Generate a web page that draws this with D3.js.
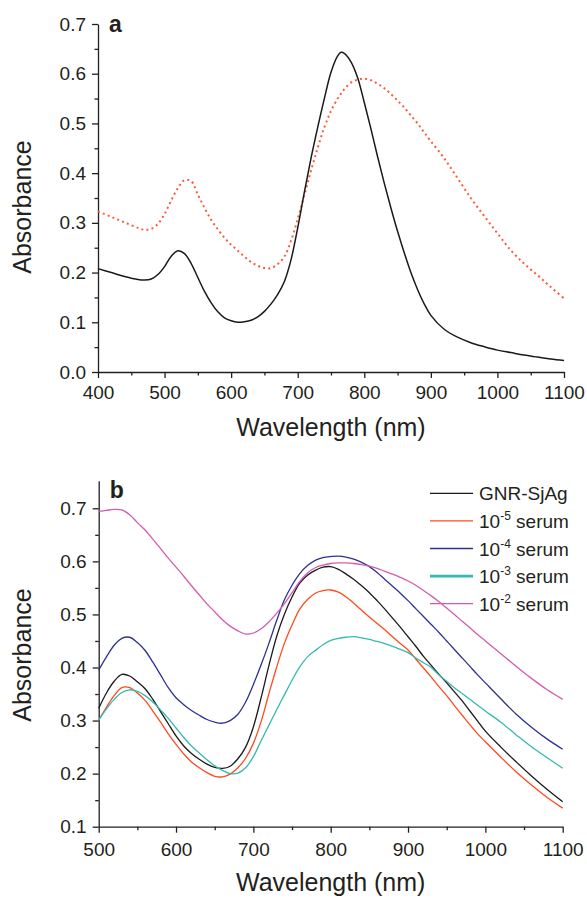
<!DOCTYPE html>
<html>
<head>
<meta charset="utf-8">
<script src="https://cdn.jsdelivr.net/npm/d3@7"></script>
<style>
  body { margin: 0; background: #fff; }
  svg text { font-family: "Liberation Sans", Arial, sans-serif; fill: #231f20; }
</style>
</head>
<body>
<div id="chart"></div>
<script>
// panel a
var wlA = [400,420,440,460,470,480,490,500,510,520,530,540,550,560,570,580,590,600,610,620,630,640,650,660,670,680,690,700,710,720,730,740,750,760,765,770,780,790,800,810,820,830,840,850,860,870,880,890,900,920,940,960,980,1000,1020,1040,1060,1080,1100];
var absGnrA = [0.208,0.200,0.192,0.186,0.185,0.187,0.196,0.212,0.233,0.244,0.238,0.218,0.190,0.162,0.139,0.121,0.109,0.103,0.100,0.101,0.104,0.111,0.122,0.137,0.156,0.182,0.226,0.290,0.362,0.430,0.492,0.550,0.603,0.636,0.643,0.641,0.624,0.592,0.542,0.489,0.433,0.380,0.330,0.283,0.240,0.200,0.166,0.137,0.114,0.086,0.070,0.059,0.051,0.044,0.039,0.034,0.030,0.026,0.023];
var absSjAgA = [0.323,0.312,0.301,0.290,0.286,0.288,0.298,0.318,0.345,0.370,0.386,0.384,0.357,0.330,0.306,0.287,0.270,0.256,0.244,0.232,0.221,0.214,0.209,0.209,0.217,0.232,0.264,0.308,0.356,0.405,0.451,0.492,0.525,0.550,0.560,0.569,0.582,0.588,0.590,0.587,0.580,0.571,0.559,0.546,0.532,0.516,0.500,0.482,0.464,0.430,0.390,0.350,0.314,0.279,0.245,0.218,0.195,0.171,0.148];

// panel b
var wlB = [500,510,520,530,540,550,560,570,580,590,600,610,620,630,640,650,660,670,680,690,700,710,720,730,740,750,760,770,780,790,800,810,820,830,840,850,860,870,880,890,900,910,920,930,940,950,960,970,980,990,1000,1020,1040,1060,1080,1100];
var absGnrSjAg = [0.323,0.352,0.374,0.387,0.384,0.373,0.360,0.340,0.317,0.294,0.271,0.252,0.238,0.227,0.218,0.212,0.210,0.214,0.228,0.250,0.288,0.343,0.403,0.458,0.500,0.533,0.559,0.574,0.583,0.589,0.590,0.585,0.576,0.566,0.554,0.541,0.526,0.510,0.493,0.476,0.458,0.440,0.421,0.404,0.387,0.371,0.354,0.337,0.318,0.299,0.280,0.250,0.222,0.195,0.170,0.147];
var absSerum5 = [0.301,0.325,0.347,0.362,0.362,0.352,0.338,0.318,0.297,0.275,0.255,0.237,0.222,0.211,0.202,0.195,0.194,0.199,0.211,0.229,0.257,0.298,0.350,0.400,0.445,0.480,0.510,0.528,0.540,0.545,0.546,0.542,0.533,0.521,0.508,0.495,0.483,0.471,0.458,0.445,0.433,0.416,0.399,0.382,0.364,0.347,0.328,0.310,0.292,0.275,0.260,0.231,0.203,0.178,0.155,0.135];
var absSerum4 = [0.395,0.420,0.442,0.455,0.457,0.447,0.432,0.410,0.386,0.362,0.343,0.330,0.319,0.310,0.302,0.297,0.295,0.300,0.312,0.335,0.368,0.405,0.445,0.488,0.527,0.555,0.577,0.592,0.602,0.607,0.609,0.610,0.608,0.604,0.598,0.590,0.579,0.566,0.553,0.540,0.526,0.511,0.496,0.481,0.466,0.450,0.434,0.418,0.402,0.386,0.371,0.341,0.312,0.287,0.265,0.246];
var absSerum3 = [0.301,0.322,0.340,0.353,0.358,0.355,0.347,0.335,0.320,0.304,0.286,0.268,0.252,0.239,0.226,0.215,0.206,0.200,0.201,0.211,0.232,0.262,0.291,0.320,0.348,0.376,0.401,0.420,0.432,0.443,0.451,0.455,0.457,0.458,0.456,0.453,0.449,0.445,0.440,0.434,0.428,0.418,0.409,0.400,0.386,0.374,0.362,0.351,0.340,0.329,0.318,0.297,0.273,0.250,0.230,0.210];
var absSerum2 = [0.694,0.696,0.698,0.697,0.688,0.673,0.659,0.642,0.624,0.606,0.589,0.572,0.554,0.537,0.520,0.505,0.490,0.478,0.469,0.463,0.465,0.473,0.486,0.502,0.520,0.541,0.562,0.578,0.588,0.593,0.596,0.597,0.597,0.596,0.594,0.591,0.587,0.581,0.576,0.570,0.563,0.555,0.545,0.535,0.524,0.512,0.500,0.487,0.475,0.462,0.450,0.426,0.402,0.379,0.358,0.340];

var seriesB = [
    {name: "GNR-SjAg", exp: null, color: "#1a1a1a", values: absGnrSjAg, legW: 1.3},
    {name: "serum", exp: "-5", color: "#ff4a1c", values: absSerum5, legW: 1.3},
    {name: "serum", exp: "-4", color: "#2e3192", values: absSerum4, legW: 1.3},
    {name: "serum", exp: "-3", color: "#35b9b0", values: absSerum3, legW: 2.6},
    {name: "serum", exp: "-2", color: "#d35cb0", values: absSerum2, legW: 1.3}
];

var svg = d3.select("#chart").append("svg")
    .attr("width", 587)
    .attr("height", 898);

function drawAxes(g, x, y, opt){
    g.append("g").attr("transform", "translate(0," + opt.bottom + ")")
        .call(d3.axisBottom(x).tickValues(opt.xTicks).tickSize(6).tickSizeOuter(0).tickPadding(opt.xPad).tickFormat(d3.format("d")));
    g.append("g").attr("transform", "translate(0," + opt.bottom + ")")
        .call(d3.axisBottom(x).tickValues(opt.xMinor).tickSize(3.5).tickSizeOuter(0).tickFormat(""))
        .call(function(a){ a.select(".domain").remove(); });
    g.append("g").attr("transform", "translate(" + opt.left + ",0)")
        .call(d3.axisLeft(y).tickValues(opt.yTicks).tickSize(6).tickSizeOuter(0).tickPadding(6).tickFormat(d3.format(".1f")));
    g.append("g").attr("transform", "translate(" + opt.left + ",0)")
        .call(d3.axisLeft(y).tickValues(opt.yMinor).tickSize(3.5).tickSizeOuter(0).tickFormat(""))
        .call(function(a){ a.select(".domain").remove(); });

    g.selectAll(".domain, .tick line").attr("stroke", "#231f20").attr("stroke-width", 1.3);
    g.selectAll(".tick text").attr("font-size", 19).attr("fill", "#231f20")
        .style("font-family", "'Liberation Sans', Arial, sans-serif");

    g.append("text")
        .attr("x", (opt.left + opt.right) / 2)
        .attr("y", opt.bottom + opt.titleGap)
        .attr("text-anchor", "middle")
        .attr("font-size", 25)
        .text("Wavelength (nm)");

    g.append("text")
        .attr("transform", "translate(31," + opt.yTitleY + ") rotate(-90)")
        .attr("text-anchor", "middle")
        .attr("font-size", 25)
        .text("Absorbance");

    g.append("text")
        .attr("x", opt.left + 11)
        .attr("y", opt.letterY)
        .attr("font-size", 23)
        .attr("font-weight", "bold")
        .text(opt.letter);
}

// ---- panel a ----
var xA = d3.scaleLinear().domain([400, 1100]).range([98, 564]);
var yA = d3.scaleLinear().domain([0, 0.7]).range([372, 24]);
var gA = svg.append("g");

drawAxes(gA, xA, yA, {
    bottom: 372, left: 98, right: 564, xPad: 8,
    xTicks: d3.range(400, 1101, 100), xMinor: d3.range(450, 1100, 100),
    yTicks: d3.range(0, 0.71, 0.1), yMinor: d3.range(0.05, 0.7, 0.1),
    titleGap: 64, yTitleY: 207, letterY: 32, letter: "a"
});

var lineA = d3.line()
    .x(function(d, i){ return xA(wlA[i]); })
    .y(function(d){ return yA(d); })
    .curve(d3.curveCatmullRom.alpha(0.5));

gA.append("path")
    .attr("d", lineA(absSjAgA))
    .attr("fill", "none")
    .attr("stroke", "#ff5a36")
    .attr("stroke-width", 2)
    .attr("stroke-dasharray", "2,3.2");

gA.append("path")
    .attr("d", lineA(absGnrA))
    .attr("fill", "none")
    .attr("stroke", "#1a1a1a")
    .attr("stroke-width", 1.5);

// ---- panel b ----
var xB = d3.scaleLinear().domain([500, 1100]).range([98.7, 562.7]);
var yB = d3.scaleLinear().domain([0.1, 0.752]).range([826.7, 480.7]);
var gB = svg.append("g");

drawAxes(gB, xB, yB, {
    bottom: 826.7, left: 98.7, right: 562.7, xPad: 10,
    xTicks: d3.range(500, 1101, 100), xMinor: d3.range(550, 1100, 100),
    yTicks: d3.range(0.1, 0.71, 0.1), yMinor: d3.range(0.15, 0.75, 0.1),
    titleGap: 64.5, yTitleY: 655, letterY: 498, letter: "b"
});

var lineB = d3.line()
    .x(function(d, i){ return xB(wlB[i]); })
    .y(function(d){ return yB(d); })
    .curve(d3.curveCatmullRom.alpha(0.5));

gB.selectAll("path.spec")
    .data(seriesB)
    .enter()
    .append("path")
    .attr("class", "spec")
    .attr("d", function(d){ return lineB(d.values); })
    .attr("fill", "none")
    .attr("stroke", function(d){ return d.color; })
    .attr("stroke-width", 1.3);

// legend
var legend = gB.selectAll("g.leg")
    .data(seriesB)
    .enter()
    .append("g")
    .attr("class", "leg")
    .attr("transform", function(d, i){ return "translate(430," + (493.3 + i * 27.6) + ")"; });

legend.append("line")
    .attr("x1", 0).attr("x2", 43)
    .attr("stroke", function(d){ return d.color; })
    .attr("stroke-width", function(d){ return d.legW; });

legend.each(function(d){
    var t = d3.select(this).append("text")
        .attr("x", 49).attr("y", 7)
        .attr("font-size", 19);
    if(d.exp === null){
        t.text(d.name);
    }
    else{
        t.append("tspan").text("10");
        t.append("tspan").attr("font-size", 12).attr("dy", -8).text(d.exp);
        t.append("tspan").attr("dy", 8).text(" " + d.name);
    }
});
</script>
</body>
</html>
